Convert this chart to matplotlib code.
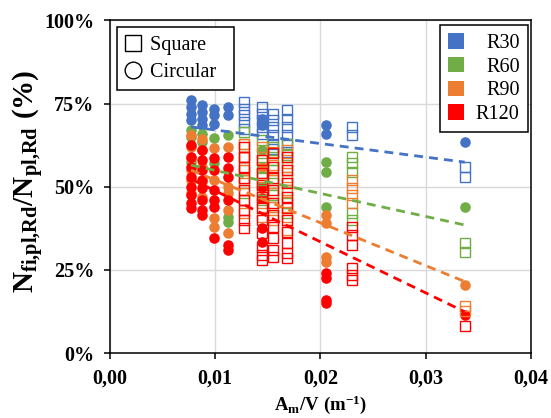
import matplotlib
matplotlib.use("Agg")
import matplotlib.pyplot as plt
from matplotlib.lines import Line2D
from matplotlib.patches import Patch
from matplotlib.ticker import FuncFormatter

plt.rcParams["font.family"] = ["Liberation Serif", "DejaVu Serif"]
plt.rcParams["mathtext.fontset"] = "custom"
plt.rcParams["mathtext.rm"] = "Liberation Serif:bold"
plt.rcParams["mathtext.it"] = "Liberation Serif:bold"
plt.rcParams["mathtext.bf"] = "Liberation Serif:bold"

classes = ["R30", "R60", "R90", "R120"]
colors = ["#4472C4", "#70AD47", "#ED7D31", "#FF0000"]

# circular sections, grouped by section factor Am/V: (Am/V, [ratio %])
circ_r30 = [(0.0077, [76, 74, 72, 70]), (0.0087, [74.5, 72.5, 70.5, 68.5]),
            (0.0099, [73.5, 71.5, 69]), (0.0112, [74, 71.5]),
            (0.0144, [70.5, 68.5]), (0.0205, [68.5, 66]), (0.0337, [63.5])]
circ_r60 = [(0.0077, [67, 65, 57.5]), (0.0087, [66, 63.5]), (0.0099, [64.7, 57]),
            (0.0112, [65.5, 41, 39.5]), (0.0144, [61]),
            (0.0205, [57.4, 54.4, 44]), (0.0337, [44])]
circ_r90 = [(0.0077, [65.5, 62, 58.5, 55, 52, 48]), (0.0087, [64.5, 61, 56, 51.5, 47]),
            (0.0099, [61.6, 52, 40.6, 38]), (0.0112, [62, 50, 48, 43, 36]),
            (0.0144, [56]), (0.0205, [41.5, 39, 29, 27.5]), (0.0337, [20.5])]
circ_r120 = [(0.0077, [62.5, 59, 56, 53, 50, 47.5, 45, 43.5]),
             (0.0087, [61, 58, 55, 52, 49.5, 46, 43, 41.5]),
             (0.0099, [58.6, 55, 49, 46, 44, 34.5]),
             (0.0112, [59, 55.5, 53, 46, 32.5, 31]),
             (0.0144, [50, 46.5, 37.5, 33.5]), (0.0205, [24, 22.5, 16, 15]),
             (0.0337, [11.5])]

# square sections
sq_r30 = [(0.0127, [75.5, 73.5, 71.5, 69.5, 67.5]), (0.0144, [74, 72, 70, 68, 66]),
          (0.0155, [72, 70, 68, 65.5, 63, 61.5]), (0.0168, [73, 70.5, 68, 65.5, 63, 60.5]),
          (0.0230, [68, 65.5]), (0.0337, [56, 53])]
sq_r60 = [(0.0127, [66.5, 63, 59, 55, 52, 48]), (0.0144, [64, 60, 56, 52.5, 49, 46]),
          (0.0155, [62, 58, 55, 51, 47.5, 44]), (0.0168, [63, 59.5, 56, 52, 48.5, 45, 42]),
          (0.0230, [59, 57, 54.5, 42, 40]), (0.0337, [33, 30.5])]
sq_r90 = [(0.0127, [63, 59, 55, 51, 46, 42]), (0.0144, [62, 58, 54, 50, 45, 41]),
          (0.0155, [60.5, 56.5, 52, 48, 44, 40]), (0.0168, [61, 57, 53, 49, 45.5, 41, 37]),
          (0.0230, [52, 49.5, 47.5, 45]), (0.0337, [14, 12.5])]
sq_r120 = [(0.0127, [62, 59, 56, 52.5, 49, 46, 43, 40, 37.5]),
           (0.0144, [58, 54, 50.5, 47, 43.5, 40, 36, 32, 29.5, 28]),
           (0.0155, [60, 56, 52.5, 49, 45, 41.5, 38, 34.5, 31, 29]),
           (0.0168, [59, 55, 51, 47, 43.5, 40, 36.5, 33, 30, 28.5]),
           (0.0230, [38, 35.5, 32.5, 25.5, 23.5, 22]), (0.0337, [8])]

# linear trend lines, from first to last section factor
trend_x = [0.0077, 0.0337]
trend_r30 = [68.0, 57.4]
trend_r60 = [56.5, 38.5]
trend_r90 = [55.0, 21.5]
trend_r120 = [52.3, 12.4]

circles = [circ_r30, circ_r60, circ_r90, circ_r120]
squares = [sq_r30, sq_r60, sq_r90, sq_r120]
trends = [trend_r30, trend_r60, trend_r90, trend_r120]


def flatten(groups):
    xs, ys = [], []
    for x, vals in groups:
        for v in vals:
            xs.append(x)
            ys.append(v)
    return xs, ys


fig = plt.figure(figsize=(5.51, 4.18), dpi=100)
ax = fig.add_axes([0.1996, 0.1555, 0.7641, 0.7955])

for grp, c in zip(circles, colors):
    xs, ys = flatten(grp)
    ax.plot(xs, ys, "o", color=c, markersize=7.6, markeredgewidth=0, zorder=3)
for grp, c in zip(squares, colors):
    xs, ys = flatten(grp)
    ax.plot(xs, ys, "s", markerfacecolor="none", markeredgecolor=c,
            markersize=7.4, markeredgewidth=1.0, zorder=3)
for tr, c in zip(trends, colors):
    ax.plot(trend_x, tr, color=c, lw=2.0, dashes=(3.2, 2.2), zorder=4)

ax.set_xlim(0, 0.04)
ax.set_ylim(0, 100)
ax.set_xticks([0, 0.01, 0.02, 0.03, 0.04])
ax.set_yticks([0, 25, 50, 75, 100])
ax.xaxis.set_major_formatter(FuncFormatter(lambda v, _: f"{v:.2f}".replace(".", ",")))
ax.yaxis.set_major_formatter(FuncFormatter(lambda v, _: f"{v:.0f}%"))
ax.grid(True, color="#D9D9D9", lw=1.0, zorder=0)
ax.set_axisbelow(True)
for s in ax.spines.values():
    s.set_linewidth(1.1)
    s.set_color("black")
ax.tick_params(direction="out", length=4.5, width=1.1, pad=7, labelsize=14.5)
for lbl in ax.get_xticklabels() + ax.get_yticklabels():
    lbl.set_fontweight("bold")

ax.set_xlabel(r"$\mathbf{A_m/V\ (m^{-1})}$", fontsize=13.5, labelpad=3)
ax.set_ylabel(r"$\mathbf{N_{fi{,}pl{,}Rd}/N_{pl{,}Rd}\ (\%)}$", fontsize=21)
ax.yaxis.set_label_coords(-0.152, 0.515)

# shape legend
shape_handles = [
    Line2D([], [], marker="s", ls="none", markerfacecolor="none", markeredgecolor="black",
           markersize=12, markeredgewidth=1.0),
    Line2D([], [], marker="o", ls="none", markerfacecolor="none", markeredgecolor="black",
           markersize=12, markeredgewidth=1.0),
]
leg1 = ax.legend(shape_handles, ["Square  ", "Circular  "], loc="upper left",
                 bbox_to_anchor=(0.0166, 0.979), borderaxespad=0, fontsize=14.5,
                 frameon=True, fancybox=False, edgecolor="black", framealpha=1,
                 handlelength=0.8, handletextpad=0.45, labelspacing=0.4,
                 borderpad=0.4)
leg1.get_frame().set_linewidth(1.1)
ax.add_artist(leg1)

# fire resistance class legend, labels right-aligned
class_handles = [Patch(facecolor=c, edgecolor="none") for c in colors]
leg2 = ax.legend(class_handles, classes, loc="upper right",
                 bbox_to_anchor=(0.992, 0.986), borderaxespad=0, fontsize=14.5,
                 frameon=True, fancybox=False, edgecolor="black", framealpha=1,
                 handlelength=0.8, handleheight=0.8, handletextpad=0.6,
                 labelspacing=0.2, borderpad=0.4)
leg2.get_frame().set_linewidth(1.1)

renderer = fig.canvas.get_renderer()
widths = [t.get_window_extent(renderer).width for t in leg2.get_texts()]
wmax = max(widths)
for t, w in zip(leg2.get_texts(), widths):
    t.set_position((wmax - w, 0))

fig.savefig("out.png", dpi=100)
